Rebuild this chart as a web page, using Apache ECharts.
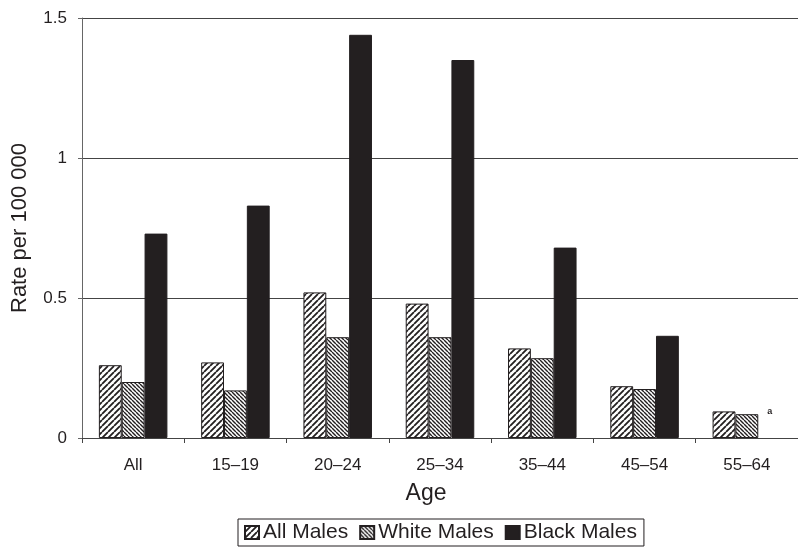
<!DOCTYPE html>
<html>
<head>
<meta charset="utf-8">
<script src="https://cdn.jsdelivr.net/npm/echarts@6/dist/echarts.min.js"></script>
<style>
  html, body { margin: 0; padding: 0; background: #fff; }
  #chart { width: 798px; height: 549px; }
</style>
</head>
<body>
<div id="chart"></div>
<script>
const categories = ['All', '15\u201319', '20\u201324', '25\u201334', '35\u201344', '45\u201354', '55\u201364'];
const allMales = [0.26, 0.27, 0.52, 0.48, 0.32, 0.185, 0.095];
const whiteMales = [0.20, 0.17, 0.36, 0.36, 0.285, 0.175, 0.085];
const blackMales = [0.73, 0.83, 1.44, 1.35, 0.68, 0.365, null];
const yTicks = [0, 0.5, 1, 1.5];
const ink = '#231f20';

function hatch(size, dir, lw) {
  const c = document.createElement('canvas');
  c.width = size; c.height = size;
  const g = c.getContext('2d');
  g.fillStyle = '#fff';
  g.fillRect(0, 0, size, size);
  g.strokeStyle = ink;
  g.lineWidth = lw;
  g.beginPath();
  for (const o of [-size, 0, size]) {
    if (dir === '/') { g.moveTo(o, size); g.lineTo(o + size, 0); }
    else { g.moveTo(o, 0); g.lineTo(o + size, size); }
  }
  g.stroke();
  return { image: c, repeat: 'repeat' };
}

const patAll = hatch(6, '/', 1.8);
const patWhite = hatch(4, '\\', 1.4);

const blackData = blackMales.map(v => v === null
  ? { value: 0, itemStyle: { borderWidth: 0, color: 'rgba(0,0,0,0)' },
      label: { show: true, position: 'top', distance: 22, formatter: 'a', fontSize: 9, fontWeight: 'bold', color: ink } }
  : v);

const chart = echarts.init(document.getElementById('chart'));
chart.setOption({
  animation: false,
  backgroundColor: '#fff',
  textStyle: { fontFamily: 'Liberation Sans, Arial, sans-serif', color: ink },
  grid: { left: 82, top: 18, width: 725, height: 420, containLabel: false },
  legend: {
    left: 238, top: 519,
    padding: [3, 7, 3, 6],
    itemGap: 11,
    itemWidth: 14, itemHeight: 13,
    borderColor: ink, borderWidth: 1, borderRadius: 0,
    icon: 'rect',
    textStyle: { fontSize: 21, color: ink, padding: [0, 0, 0, -1] },
    data: ['All Males', 'White Males', 'Black Males']
  },
  xAxis: {
    type: 'category',
    data: categories,
    name: 'Age',
    nameLocation: 'middle',
    nameGap: 44,
    nameTextStyle: { fontSize: 23, color: ink, padding: [0, 28, 0, 0] },
    axisLine: { lineStyle: { color: '#444', width: 1 } },
    axisTick: { show: true, length: 5, lineStyle: { color: '#444' } },
    axisLabel: { fontSize: 17, color: ink, margin: 19 }
  },
  yAxis: {
    type: 'value',
    min: 0, max: 1.5, interval: 0.5,
    name: 'Rate per 100 000',
    nameLocation: 'middle',
    nameGap: 51,
    nameTextStyle: { fontSize: 22, color: ink },
    axisLine: { show: true, lineStyle: { color: '#666', width: 1 } },
    axisTick: { show: true, length: 4, lineStyle: { color: '#666' } },
    axisLabel: { fontSize: 17, color: ink, margin: 15,
      formatter: v => yTicks.includes(v) ? String(v) : '' },
    splitLine: { show: true, lineStyle: { color: '#444', width: 1 } }
  },
  series: [
    { name: 'All Males', type: 'bar', data: allMales, barGap: '0%', barCategoryGap: '33%',
      itemStyle: { color: patAll, borderColor: ink, borderWidth: 1 } },
    { name: 'White Males', type: 'bar', data: whiteMales, barGap: '0%', barCategoryGap: '33%',
      itemStyle: { color: patWhite, borderColor: ink, borderWidth: 1 } },
    { name: 'Black Males', type: 'bar', data: blackData, barGap: '0%', barCategoryGap: '33%',
      itemStyle: { color: ink, borderColor: ink, borderWidth: 1 } }
  ]
});
</script>
</body>
</html>
